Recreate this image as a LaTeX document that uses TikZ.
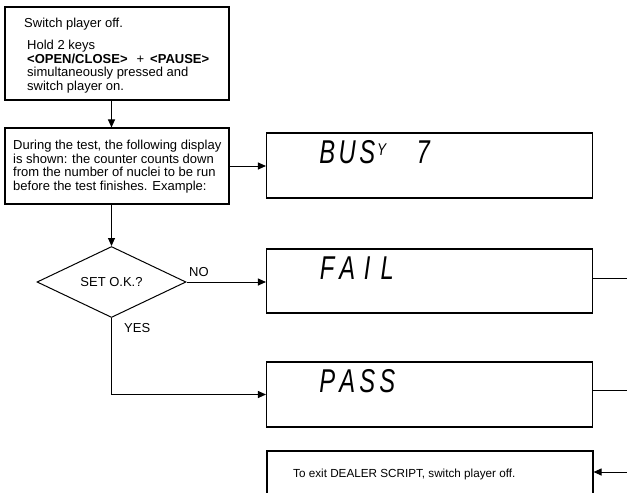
\documentclass[tikz,border=0pt]{standalone}
\usepackage{fontspec}
\usepackage{graphicx}
\setmainfont{Liberation Sans}
\usetikzlibrary{shapes.geometric,arrows.meta}
\newcommand\lcdc[1]{\makebox[20pt][c]{\scalebox{0.72}[1]{#1}}}
\begin{document}
\begin{tikzpicture}[x=1pt,y=-1pt,
  box/.style={draw,line width=1.1pt,rectangle,inner sep=0pt},
  txt/.style={anchor=base west,inner sep=0pt,font=\fontsize{13}{13.5}\selectfont},
  lcd/.style={anchor=base west,inner sep=0pt,font=\fontsize{33}{33}\selectfont\itshape},
  arr/.style={line width=1pt,-{Triangle[length=8pt,width=7pt]}},
  ln/.style={line width=1pt}]
\useasboundingbox (0,0) rectangle (627,493);
\clip (0,0) rectangle (627,493);
% left column
\node[box,minimum width=224,minimum height=93] (b1) at (117,53.5) {};
\node[txt] (t1) at (24,27) {Switch player off.};
\node[txt] (t2) at (27,49.5) {Hold 2 keys};
\node[txt] (t3) at (27,63) {\textbf{<OPEN/CLOSE>}\hspace*{9pt}+\hspace*{6pt}\textbf{<PAUSE>}};
\node[txt] (t4) at (27,76.5) {simultaneously pressed and};
\node[txt] (t5) at (27,90) {switch player on.};
\node[box,minimum width=224,minimum height=76] (b2) at (117,166) {};
\node[txt] (u1) at (13,149.5) {During the test, the following display};
\node[txt] (u2) at (13,163) {is shown: the counter counts down};
\node[txt] (u3) at (13,176.5) {from the number of nuclei to be run};
\node[txt] (u4) at (13,190) {before the test finishes. Example:};
\node[draw,diamond,aspect=2.1,minimum width=149,minimum height=71,inner sep=0pt,line width=1pt,font=\fontsize{13}{13.5}\selectfont] (dia) at (111.5,282) {SET O.K.?};
\node[txt] (no) at (189,276) {NO};
\node[txt] (yes) at (124,332) {YES};
% displays
\node[box,minimum width=326,minimum height=65] (d1) at (429.5,165.5) {};
\node[lcd] (l1) at (317,163) {\lcdc{B}\lcdc{U}\lcdc{S}\makebox[16pt][l]{\raisebox{8pt}{\fontsize{17}{17}\selectfont\scalebox{0.8}[1]{Y}}}\lcdc{}\lcdc{7}};
\node[box,minimum width=326,minimum height=64] (d2) at (429.5,281) {};
\node[lcd] (l2) at (317,279) {\lcdc{F}\lcdc{A}\lcdc{I}\lcdc{L}};
\node[box,minimum width=326,minimum height=65] (d3) at (429.5,394.5) {};
\node[lcd] (l3) at (317,392) {\lcdc{P}\lcdc{A}\lcdc{S}\lcdc{S}};
\node[box,minimum width=326,minimum height=50] (d4) at (430,476) {};
\node[anchor=base west,inner sep=0pt,font=\fontsize{11.7}{12}\selectfont] (ex) at (293,477) {To exit DEALER SCRIPT, switch player off.};
% connectors
\coordinate (e1) at (627,278);
\coordinate (e2) at (627,390);
\coordinate (e3) at (627,472);
\draw[arr] (b1.south -| dia.north) -- (b2.north -| dia.north);
\draw[arr] (b2.south -| dia.north) -- (dia.north);
\draw[arr] (b2.east) -- (b2.east -| d1.west);
\draw[arr] (dia.east) -- (dia.east -| d2.west);
\draw[arr] (dia.south) |- (d3.west);
\draw[ln] (d2.east |- e1) -- (e1);
\draw[ln] (d3.east |- e2) -- (e2);
\draw[arr] (e3) -- (e3 -| d4.east);
\end{tikzpicture}
\end{document}
